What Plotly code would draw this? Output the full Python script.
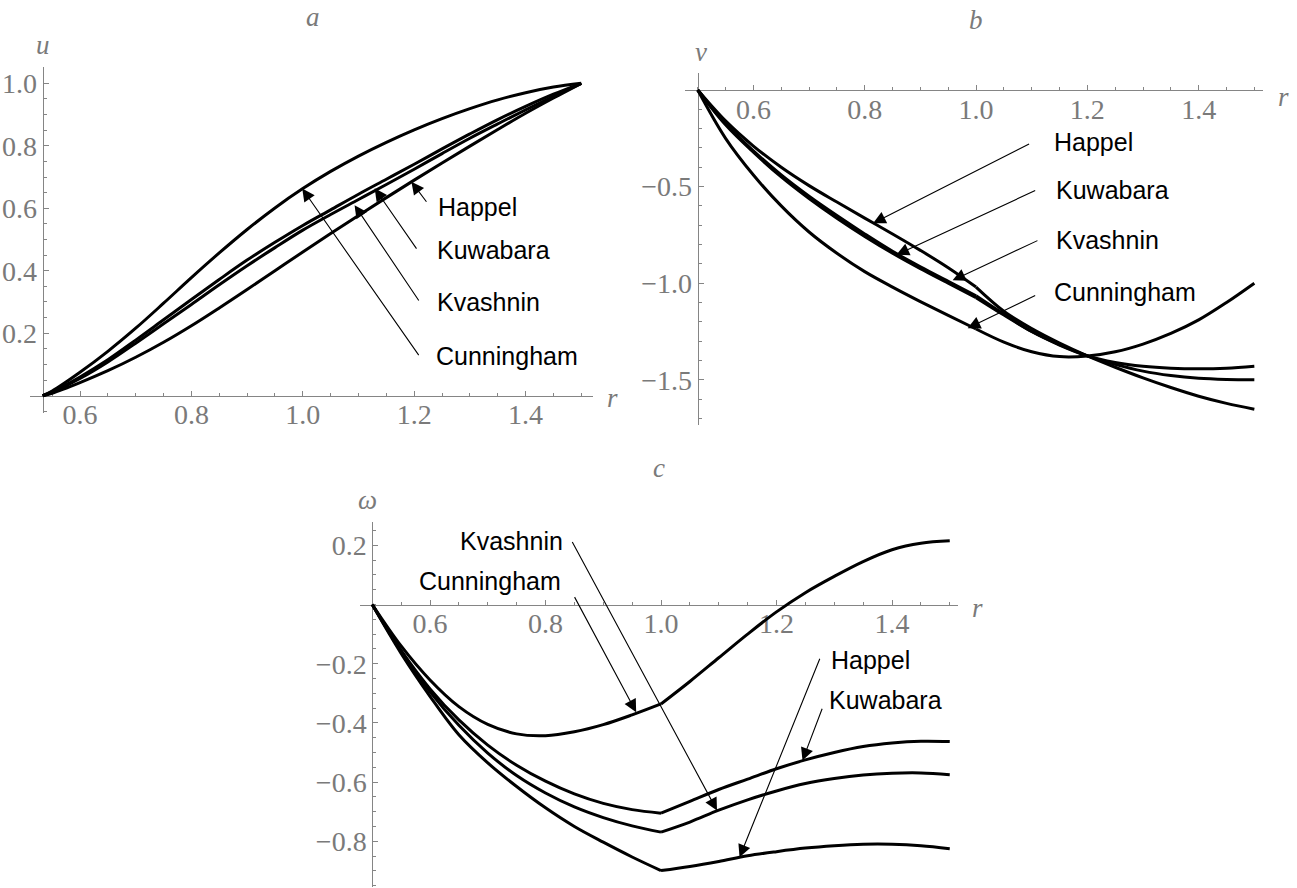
import plotly.graph_objects as go

W, H = 1297, 888

# ---------------- data ----------------
models = ["Happel", "Kuwabara", "Kvashnin", "Cunningham"]

r_a = [0.533, 0.55, 0.60, 0.65, 0.70, 0.75, 0.80, 0.85, 0.90, 0.95, 1.00,
       1.05, 1.10, 1.15, 1.20, 1.25, 1.30, 1.35, 1.40, 1.45, 1.50]
u_happel = [0, 0.008, 0.042, 0.08, 0.123, 0.171, 0.224, 0.281, 0.34, 0.40, 0.46,
            0.519, 0.577, 0.634, 0.69, 0.745, 0.799, 0.852, 0.904, 0.953, 1.0]
u_kuwabara = [0, 0.012, 0.06, 0.115, 0.178, 0.243, 0.308, 0.372, 0.434, 0.491, 0.545,
              0.595, 0.645, 0.693, 0.741, 0.79, 0.838, 0.884, 0.926, 0.965, 1.0]
u_kvashnin = [0, 0.011, 0.055, 0.108, 0.168, 0.23, 0.292, 0.355, 0.416, 0.474, 0.53,
              0.58, 0.628, 0.676, 0.725, 0.775, 0.824, 0.87, 0.915, 0.958, 1.0]
u_cunningham = [0, 0.015, 0.075, 0.142, 0.216, 0.296, 0.378, 0.457, 0.532, 0.601, 0.663,
                0.718, 0.767, 0.811, 0.851, 0.887, 0.919, 0.947, 0.97, 0.988, 1.0]

r_bc = [0.50, 0.55, 0.60, 0.65, 0.70, 0.75, 0.80, 0.85, 0.90, 0.95, 1.00,
        1.05, 1.10, 1.15, 1.20, 1.25, 1.30, 1.35, 1.40, 1.45, 1.50]
v_happel = [0, -0.16, -0.29, -0.40, -0.495, -0.58, -0.663, -0.745, -0.83, -0.92, -1.02,
            -1.145, -1.235, -1.31, -1.376, -1.435, -1.49, -1.54, -1.585, -1.622, -1.652]
v_kuwabara = [0, -0.175, -0.315, -0.44, -0.55, -0.65, -0.745, -0.835, -0.915, -0.99, -1.065,
              -1.16, -1.25, -1.32, -1.376, -1.41, -1.43, -1.44, -1.443, -1.44, -1.43]
v_kvashnin = [0, -0.18, -0.322, -0.45, -0.562, -0.664, -0.758, -0.845, -0.925, -1.0, -1.075,
              -1.165, -1.25, -1.318, -1.376, -1.42, -1.455, -1.478, -1.492, -1.498, -1.50]
v_cunningham = [0, -0.25, -0.44, -0.60, -0.735, -0.845, -0.94, -1.02, -1.095, -1.167, -1.237,
                -1.305, -1.355, -1.38, -1.377, -1.355, -1.315, -1.26, -1.19, -1.10, -1.0]

w_happel = [0, -0.165, -0.31, -0.44, -0.535, -0.615, -0.687, -0.75, -0.803, -0.853, -0.899,
            -0.885, -0.868, -0.849, -0.835, -0.823, -0.815, -0.81, -0.81, -0.815, -0.825]
w_kuwabara = [0, -0.155, -0.285, -0.39, -0.475, -0.543, -0.597, -0.64, -0.672, -0.693, -0.705,
              -0.665, -0.625, -0.59, -0.555, -0.525, -0.50, -0.48, -0.468, -0.462, -0.463]
w_kvashnin = [0, -0.158, -0.295, -0.408, -0.502, -0.578, -0.637, -0.684, -0.72, -0.748, -0.769,
              -0.735, -0.695, -0.66, -0.63, -0.605, -0.588, -0.576, -0.57, -0.569, -0.575]
w_cunningham = [0, -0.14, -0.255, -0.345, -0.405, -0.437, -0.443, -0.43, -0.406, -0.373, -0.336,
                -0.26, -0.18, -0.10, -0.025, 0.04, 0.095, 0.145, 0.185, 0.207, 0.215]

x_ticks = [0.6, 0.8, 1.0, 1.2, 1.4]
x_tick_labels = ["0.6", "0.8", "1.0", "1.2", "1.4"]
ya_ticks = [0.2, 0.4, 0.6, 0.8, 1.0]
ya_tick_labels = ["0.2", "0.4", "0.6", "0.8", "1.0"]
yb_ticks = [-1.5, -1.0, -0.5]
yb_tick_labels = ["\u22121.5", "\u22121.0", "\u22120.5"]
yc_ticks = [-0.8, -0.6, -0.4, -0.2, 0.2]
yc_tick_labels = ["\u22120.8", "\u22120.6", "\u22120.4", "\u22120.2", "0.2"]

# ---------------- layout geometry (pixels) ----------------
panels = {
    "a": dict(xr=[0.51, 1.521], xm=(0.6, 80.0, 557.0), yr=[-0.056, 1.052], ym=(0.0, 395.7, 312.4), r0=0.533, split=False),
    "b": dict(xr=[0.478, 1.515], xm=(0.6, 753.4, 556.6), yr=[-1.736, 0.09], ym=(0.0, 90.0, 193.2), r0=0.5, split=True),
    "c": dict(xr=[0.479, 1.515], xm=(0.6, 430.0, 577.5), yr=[-0.955, 0.28], ym=(0.0, 604.5, 296.0), r0=0.5, split=True),
}


def domains(p):
    v, px, s = p["xm"]
    x0 = px + (p["xr"][0] - v) * s
    x1 = px + (p["xr"][1] - v) * s
    v, py, s = p["ym"]
    y0 = py - (p["yr"][0] - v) * s
    y1 = py - (p["yr"][1] - v) * s
    return [x0 / W, x1 / W], [1 - y0 / H, 1 - y1 / H]


GRAY = "#858585"
TXT = "#7a7a7a"
TICKFONT = dict(family="Liberation Serif, Times New Roman, serif", size=28, color=TXT)
LBLFONT = dict(family="Liberation Sans, Arial, sans-serif", size=25, color="black")
ITFONT = dict(family="Liberation Serif, Times New Roman, serif", size=27, color=TXT)

fig = go.Figure()

series = {
    "a": (r_a, [u_happel, u_kuwabara, u_kvashnin, u_cunningham]),
    "b": (r_bc, [v_happel, v_kuwabara, v_kvashnin, v_cunningham]),
    "c": (r_bc, [w_happel, w_kuwabara, w_kvashnin, w_cunningham]),
}
ytickinfo = {
    "a": (ya_ticks, ya_tick_labels, 0.05),
    "b": (yb_ticks, yb_tick_labels, 0.1),
    "c": (yc_ticks, yc_tick_labels, 0.05),
}

layout_axes = {}
for i, key in enumerate(["a", "b", "c"]):
    p = panels[key]
    xd, yd = domains(p)
    xn = "x" if i == 0 else f"x{i+1}"
    yn = "y" if i == 0 else f"y{i+1}"
    xpos_of_yaxis = xd[0] + (p["r0"] - p["xr"][0]) / (p["xr"][1] - p["xr"][0]) * (xd[1] - xd[0])
    ypos_of_xaxis = yd[0] + (0 - p["yr"][0]) / (p["yr"][1] - p["yr"][0]) * (yd[1] - yd[0])
    tv, tt, mdt = ytickinfo[key]
    layout_axes["xaxis" if i == 0 else f"xaxis{i+1}"] = dict(
        domain=xd, range=p["xr"], anchor="free", position=ypos_of_xaxis,
        showgrid=False, zeroline=False, showline=True, linecolor=GRAY, linewidth=1,
        ticks="inside", ticklen=5, tickwidth=1, tickcolor=GRAY,
        tickvals=x_ticks, ticktext=x_tick_labels, tickfont=TICKFONT, ticklabelstandoff=-6,
        minor=dict(dtick=0.05, tick0=0, ticks="inside", ticklen=3, tickcolor=GRAY, showgrid=False),
        layer="below traces", fixedrange=True,
    )
    layout_axes["yaxis" if i == 0 else f"yaxis{i+1}"] = dict(
        domain=yd, range=p["yr"], anchor="free", position=xpos_of_yaxis,
        showgrid=False, zeroline=False, showline=True, linecolor=GRAY, linewidth=1,
        ticks="inside", ticklen=5, tickwidth=1, tickcolor=GRAY,
        tickvals=tv, ticktext=tt, tickfont=TICKFONT,
        minor=dict(dtick=mdt, tick0=0, ticks="inside", ticklen=3, tickcolor=GRAY, showgrid=False),
        layer="below traces", fixedrange=True,
    )
    rr, ys = series[key]
    for name, yv in zip(models, ys):
        if p["split"]:
            k = rr.index(1.0)
            parts = [(rr[:k + 1], yv[:k + 1]), (rr[k:], yv[k:])]
        else:
            parts = [(rr, yv)]
        for xs, yy in parts:
            fig.add_trace(go.Scatter(x=xs, y=yy, mode="lines", name=name, xaxis=xn, yaxis=yn,
                                     line=dict(color="black", width=3, shape="spline", smoothing=1.0),
                                     showlegend=False, hoverinfo="skip"))

fig.update_layout(width=W, height=H, margin=dict(l=0, r=0, t=0, b=0),
                  paper_bgcolor="white", plot_bgcolor="white", **layout_axes)

ann = []


def paper_text(txt, px, py, font=ITFONT, xa="center", ya="middle"):
    ann.append(dict(text=txt, x=px / W, y=1 - py / H, xref="paper", yref="paper",
                    showarrow=False, font=font, xanchor=xa, yanchor=ya))


paper_text("<i>a</i>", 313, 17)
paper_text("<i>b</i>", 976, 20)
paper_text("<i>c</i>", 659, 468)
paper_text("<i>u</i>", 43, 45)
paper_text("<i>v</i>", 701, 52)
paper_text("<i>ω</i>", 367, 500)
paper_text("<i>r</i>", 612, 398)
paper_text("<i>r</i>", 1283, 97)
paper_text("<i>r</i>", 977, 608)

labels = [
    ("a", "Happel", 1.239, 0.605, "left", 1.224, 0.616, 1.195, 0.685),
    ("a", "Kuwabara", 1.238, 0.466, "left", 1.206, 0.466, 1.129, 0.664),
    ("a", "Kvashnin", 1.238, 0.300, "left", 1.210, 0.300, 1.093, 0.610),
    ("a", "Cunningham", 1.235, 0.128, "left", 1.210, 0.125, 0.999, 0.663),
    ("b", "Happel", 1.136, -0.267, "left", 1.098, -0.276, 0.815, -0.690),
    ("b", "Kuwabara", 1.140, -0.517, "left", 1.109, -0.517, 0.857, -0.853),
    ("b", "Kvashnin", 1.140, -0.776, "left", 1.113, -0.776, 0.958, -0.985),
    ("b", "Cunningham", 1.136, -1.043, "left", 1.109, -1.060, 0.985, -1.233),
    ("c", "Kvashnin", 0.833, 0.216, "right", 0.845, 0.216, 1.097, -0.696),
    ("c", "Cunningham", 0.831, 0.081, "right", 0.849, 0.030, 0.957, -0.364),
    ("c", "Happel", 1.291, -0.189, "left", 1.276, -0.178, 1.136, -0.854),
    ("c", "Kuwabara", 1.287, -0.324, "left", 1.280, -0.347, 1.245, -0.527),
]
refs = {"a": ("x", "y"), "b": ("x2", "y2"), "c": ("x3", "y3")}
for key, txt, lx, ly, xa, tx, ty, hx, hy in labels:
    xr, yr = refs[key]
    ann.append(dict(text=txt, x=lx, y=ly, xref=xr, yref=yr, showarrow=False,
                    font=LBLFONT, xanchor=xa, yanchor="middle"))
    ann.append(dict(text="", x=hx, y=hy, xref=xr, yref=yr, ax=tx, ay=ty, axref=xr, ayref=yr,
                    showarrow=True, arrowhead=2, arrowsize=2.3, arrowwidth=1.1,
                    arrowcolor="black", standoff=0, startstandoff=0))

fig.update_layout(annotations=ann)
fig.write_html("out.html", config={"displayModeBar": False},
               post_script="document.body.style.margin='0';document.body.style.overflow='hidden';")
